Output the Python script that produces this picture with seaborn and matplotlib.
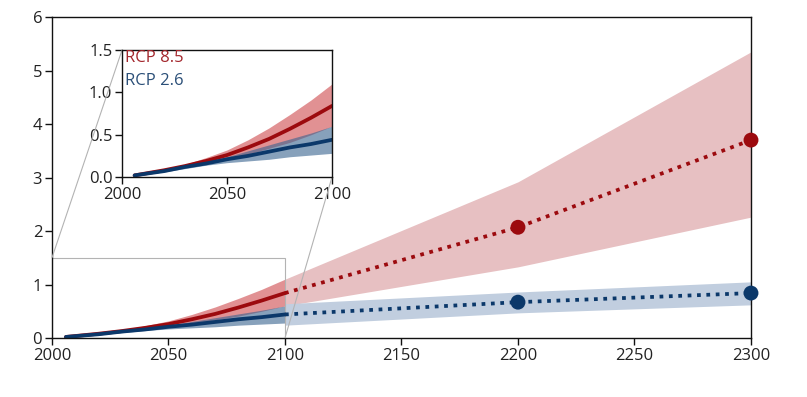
import numpy as np
import pandas as pd
import matplotlib
matplotlib.use("Agg")
import matplotlib.pyplot as plt
import seaborn as sns
from mpl_toolkits.axes_grid1.inset_locator import mark_inset

# 21st century projections (solid lines + darker bands)
years = [2006, 2020, 2030, 2040, 2050, 2060, 2070, 2080, 2090, 2100]
rcp85 = [0.02, 0.08, 0.13, 0.19, 0.26, 0.35, 0.45, 0.57, 0.70, 0.84]
rcp85_lo = [0.02, 0.07, 0.11, 0.16, 0.21, 0.27, 0.34, 0.41, 0.50, 0.60]
rcp85_hi = [0.02, 0.09, 0.15, 0.23, 0.32, 0.44, 0.58, 0.74, 0.91, 1.10]
rcp26 = [0.02, 0.07, 0.12, 0.16, 0.21, 0.25, 0.30, 0.35, 0.39, 0.44]
rcp26_lo = [0.02, 0.06, 0.10, 0.14, 0.17, 0.19, 0.21, 0.24, 0.26, 0.28]
rcp26_hi = [0.02, 0.08, 0.13, 0.18, 0.24, 0.31, 0.38, 0.45, 0.52, 0.60]

# long-term projections (dotted lines + light bands)
years_long = [2100, 2200, 2300]
rcp85_long = [0.84, 2.07, 3.70]
rcp85_long_lo = [0.60, 1.33, 2.26]
rcp85_long_hi = [1.10, 2.92, 5.35]
rcp26_long = [0.44, 0.67, 0.84]
rcp26_long_lo = [0.24, 0.47, 0.62]
rcp26_long_hi = [0.64, 0.86, 1.05]

x_ticks = [2000, 2050, 2100, 2150, 2200, 2250, 2300]
y_ticks = [0, 1, 2, 3, 4, 5, 6]
inset_x_ticks = [2000, 2050, 2100]
inset_y_ticks = [0.0, 0.5, 1.0, 1.5]

red = "#9c0a0e"
blue = "#0b386a"
red_fill = "#c9373b"
blue_fill = "#37628f"
red_light = "#e7c0c2"
blue_light = "#c1cedf"
text_col = "#222222"

sns.set_theme(style="ticks")
plt.rcParams['font.family'] = ['Open Sans', 'DejaVu Sans']

df = pd.DataFrame({'year': years, 'rcp85': rcp85, 'rcp26': rcp26})
dfl = pd.DataFrame({'year': years_long, 'rcp85': rcp85_long, 'rcp26': rcp26_long})

fig = plt.figure(figsize=(8.07, 3.97), dpi=100)
ax = fig.add_axes([0.0644, 0.1486, 0.8662, 0.8084])


def draw_near(a, lw):
    a.fill_between(years, rcp85_lo, rcp85_hi, color=red_fill, alpha=0.55, lw=0)
    a.fill_between(years, rcp26_lo, rcp26_hi, color=blue_fill, alpha=0.6, lw=0)
    sns.lineplot(data=df, x='year', y='rcp85', ax=a, color=red, lw=lw)
    sns.lineplot(data=df, x='year', y='rcp26', ax=a, color=blue, lw=lw)


# main panel
ax.fill_between(years_long, rcp85_long_lo, rcp85_long_hi, color=red_light, lw=0)
ax.fill_between(years_long, rcp26_long_lo, rcp26_long_hi, color=blue_light, lw=0)
draw_near(ax, 2.7)
sns.lineplot(data=dfl, x='year', y='rcp85', ax=ax, color=red, lw=2.7,
             linestyle=(0, (1, 1.5)))
sns.lineplot(data=dfl, x='year', y='rcp26', ax=ax, color=blue, lw=2.7,
             linestyle=(0, (1, 1.5)))
sns.scatterplot(data=dfl.iloc[1:], x='year', y='rcp85', ax=ax, color=red,
                s=115, edgecolor='none', zorder=5, clip_on=False)
sns.scatterplot(data=dfl.iloc[1:], x='year', y='rcp26', ax=ax, color=blue,
                s=115, edgecolor='none', zorder=5, clip_on=False)

ax.set_xlim(2000, 2300)
ax.set_ylim(0, 6)
ax.set_xticks(x_ticks)
ax.set_yticks(y_ticks)
ax.set_xlabel('')
ax.set_ylabel('')

# inset
axins = fig.add_axes([0.1512, 0.554, 0.2602, 0.320])
draw_near(axins, 2.7)
axins.set_xlim(2000, 2100)
axins.set_ylim(0, 1.5)
axins.set_xticks(inset_x_ticks)
axins.set_yticks(inset_y_ticks)
axins.set_yticklabels([f"{v:.1f}" for v in inset_y_ticks])
axins.set_xlabel('')
axins.set_ylabel('')
axins.text(0.015, 1.0, 'RCP 8.5', color="#a3262c", fontsize=12,
           transform=axins.transAxes, va='top', ha='left')
axins.text(0.015, 0.82, 'RCP 2.6', color="#2b4f78", fontsize=12,
           transform=axins.transAxes, va='top', ha='left')

for a in (ax, axins):
    for s in a.spines.values():
        s.set_visible(True)
        s.set_color('#111111')
        s.set_linewidth(1.0)
    a.tick_params(direction='out', length=5, width=1, colors='#111111',
                  labelsize=12, labelcolor=text_col, pad=2)

mark_inset(ax, axins, loc1=2, loc2=4, fc='none', ec='0.7', lw=0.8)

fig.savefig('out.png', dpi=100)
